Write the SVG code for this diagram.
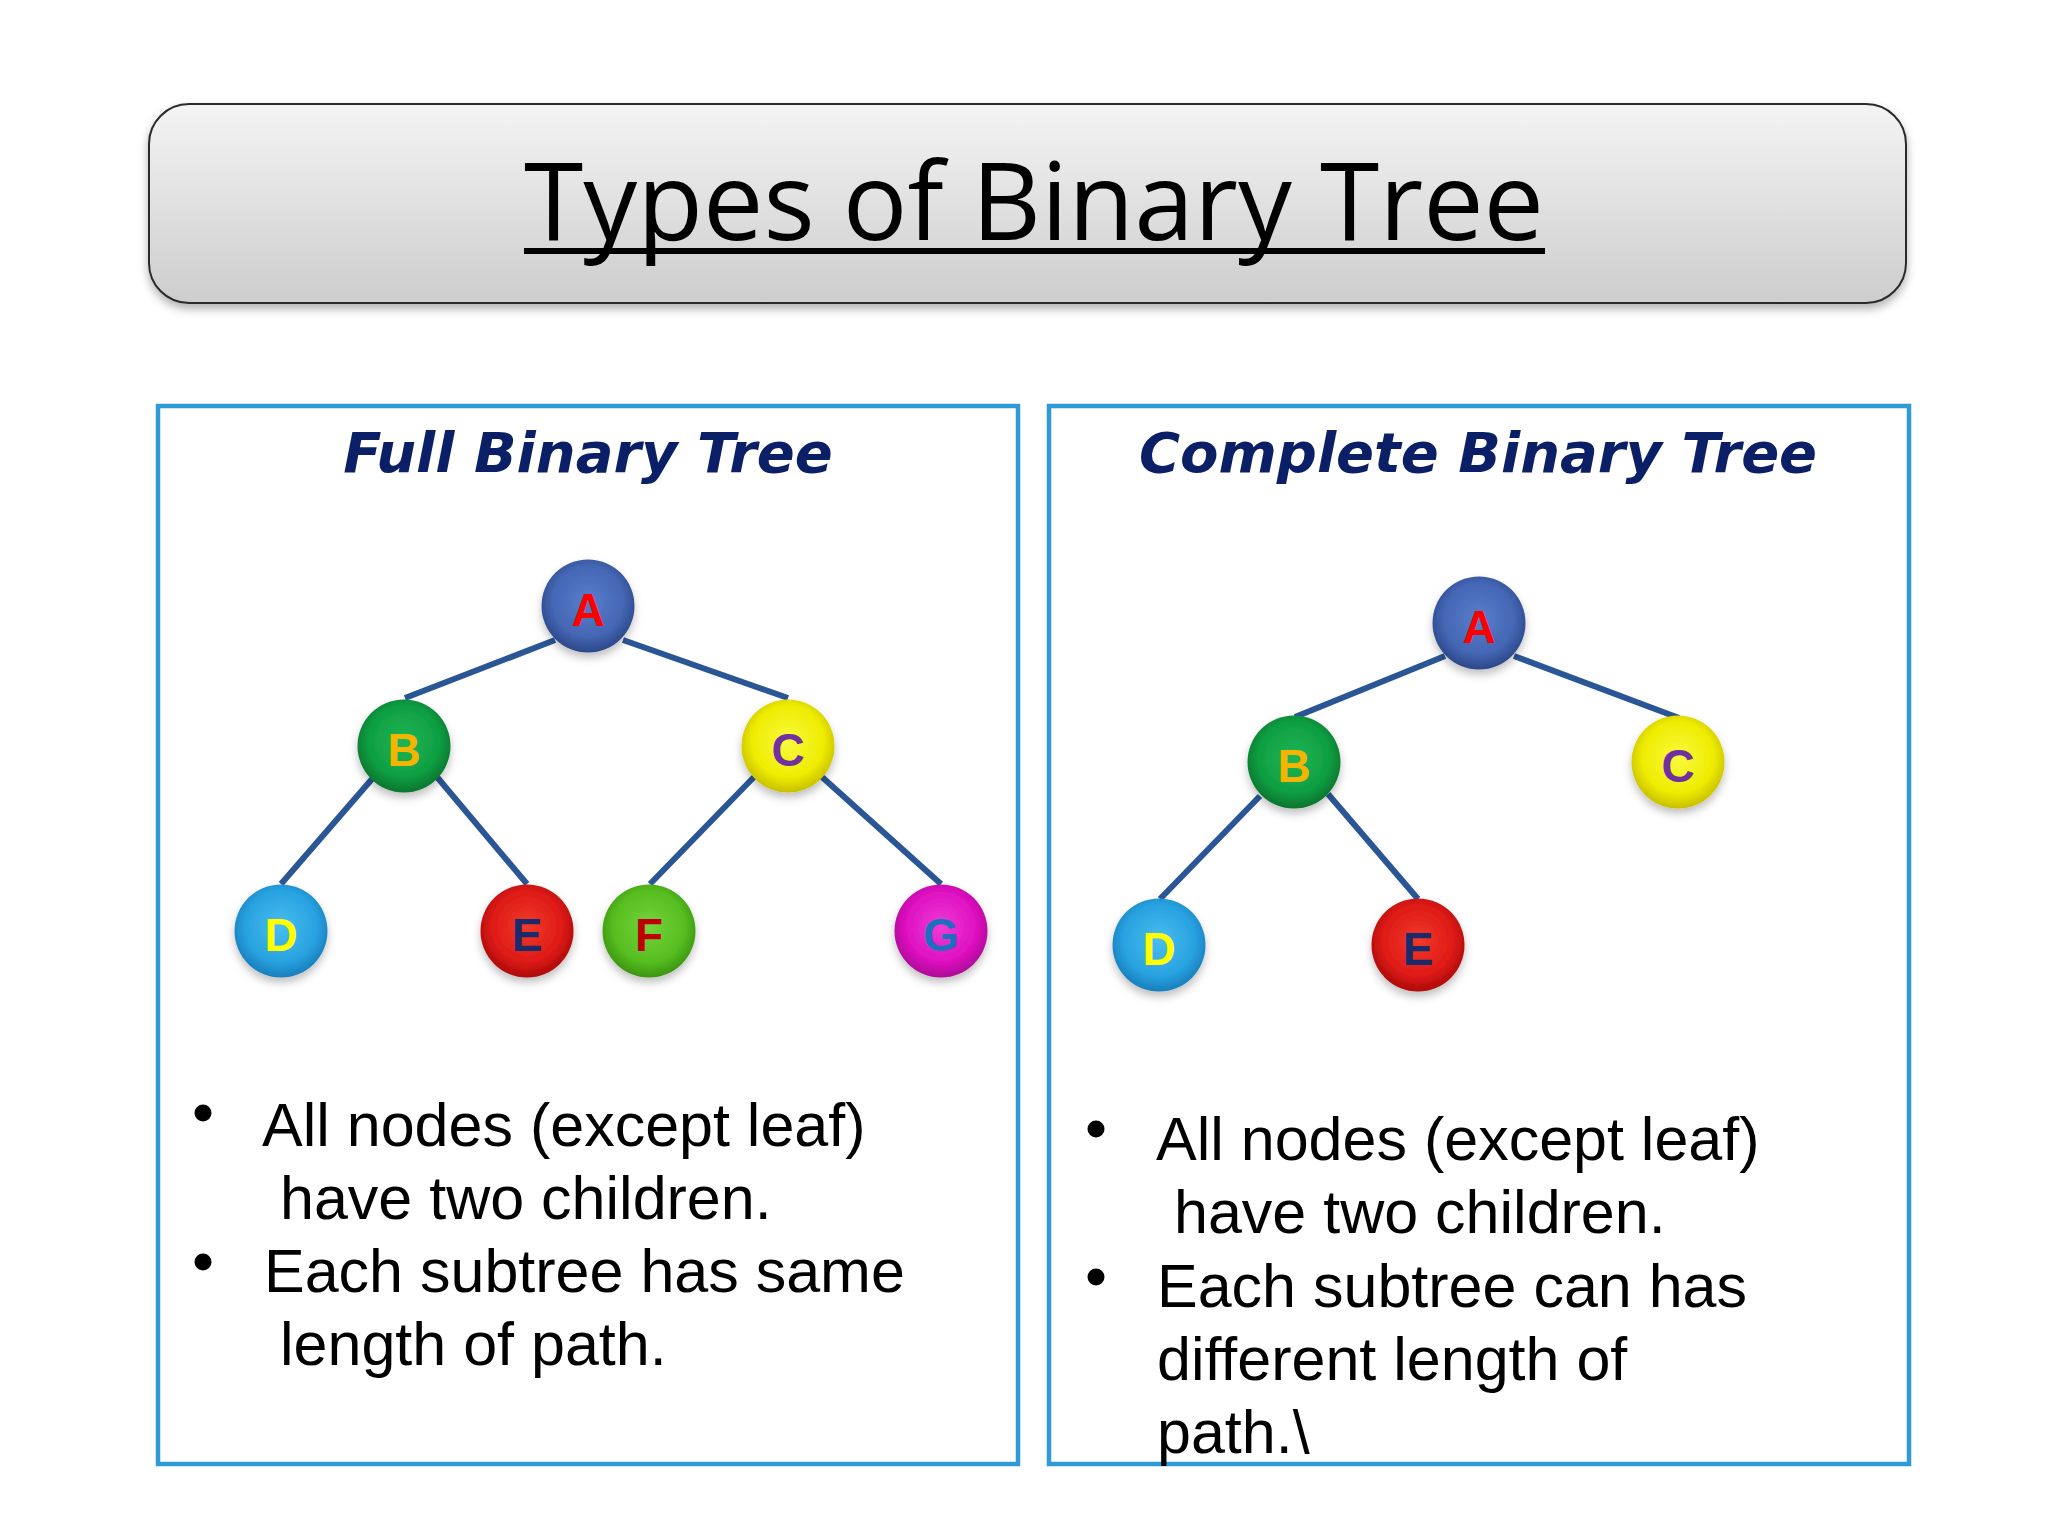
<svg xmlns="http://www.w3.org/2000/svg" width="2048" height="1536" viewBox="0 0 2048 1536">
<defs>
  <linearGradient id="titleGrad" x1="0" y1="0" x2="0" y2="1">
    <stop offset="0" stop-color="#F4F4F4"/>
    <stop offset="1" stop-color="#CDCDCD"/>
  </linearGradient>
  <filter id="boxShadow" x="-5%" y="-20%" width="110%" height="150%">
    <feDropShadow dx="0" dy="5" stdDeviation="5" flood-color="#000" flood-opacity="0.3"/>
  </filter>
  <filter id="nodeShadow" x="-30%" y="-30%" width="160%" height="170%">
    <feDropShadow dx="0" dy="5" stdDeviation="4" flood-color="#000" flood-opacity="0.25"/>
  </filter>
  <radialGradient id="gA" cx="0.5" cy="0.45" r="0.55"><stop offset="0" stop-color="#5A7ECC"/><stop offset="0.7" stop-color="#4466B4"/><stop offset="1" stop-color="#2C4788"/></radialGradient>
  <radialGradient id="gB" cx="0.5" cy="0.45" r="0.55"><stop offset="0" stop-color="#1DB656"/><stop offset="0.7" stop-color="#0F9E42"/><stop offset="1" stop-color="#08742E"/></radialGradient>
  <radialGradient id="gC" cx="0.5" cy="0.45" r="0.55"><stop offset="0" stop-color="#FAFA40"/><stop offset="0.7" stop-color="#EEEC00"/><stop offset="1" stop-color="#C8C000"/></radialGradient>
  <radialGradient id="gD" cx="0.5" cy="0.45" r="0.55"><stop offset="0" stop-color="#48BDF0"/><stop offset="0.7" stop-color="#28A2E0"/><stop offset="1" stop-color="#1A7EBC"/></radialGradient>
  <radialGradient id="gE" cx="0.5" cy="0.45" r="0.55"><stop offset="0" stop-color="#F03A2A"/><stop offset="0.7" stop-color="#DE1A16"/><stop offset="1" stop-color="#AC0A0A"/></radialGradient>
  <radialGradient id="gF" cx="0.5" cy="0.45" r="0.55"><stop offset="0" stop-color="#74D43C"/><stop offset="0.7" stop-color="#56BE20"/><stop offset="1" stop-color="#3C9410"/></radialGradient>
  <radialGradient id="gG" cx="0.5" cy="0.45" r="0.55"><stop offset="0" stop-color="#F03CD8"/><stop offset="0.7" stop-color="#DE10C0"/><stop offset="1" stop-color="#AC0896"/></radialGradient>
</defs>
<style>
  .panel { fill: #FFFFFF; stroke: #2E9AD6; stroke-width: 4.5; }
  .ptitle { font-family: "DejaVu Sans", Verdana, sans-serif; font-weight: bold; font-style: italic; font-size: 56px; fill: #0B1F66; text-anchor: middle; }
  .edge { stroke: #2A5696; stroke-width: 6; stroke-linecap: butt; fill: none; }
  .node circle { filter: url(#nodeShadow); }
  .lbl { font-family: "Liberation Sans", Arial, sans-serif; font-weight: bold; font-size: 46px; text-anchor: middle; }
  .body { font-family: "Liberation Sans", Arial, sans-serif; font-size: 61px; fill: #000000; }
  .bullet { fill: #000000; }
</style>
<rect width="2048" height="1536" fill="#FFFFFF"/>

<g id="title">
  <rect x="149" y="104" width="1757" height="199" rx="40" ry="40" fill="url(#titleGrad)" stroke="#2B2B2B" stroke-width="2" filter="url(#boxShadow)"/>
  <text x="1034" y="240" font-family="'Open Sans', 'Noto Sans', sans-serif" font-size="108" fill="#000000" text-anchor="middle" textLength="1020" lengthAdjust="spacingAndGlyphs">Types of Binary Tree</text>
  <rect x="524" y="248" width="1021" height="6" fill="#000000"/>
</g>

<g id="panel-full">
  <rect class="panel" x="158" y="406" width="860" height="1058"/>
  <text class="ptitle" x="588" y="472">Full Binary Tree</text>
</g>
<g id="panel-complete">
  <rect class="panel" x="1049" y="406" width="860" height="1058"/>
  <text class="ptitle" x="1478" y="472">Complete Binary Tree</text>
</g>

<g id="connectors">
  <line class="edge" x1="555" y1="640" x2="405" y2="698"/>
  <line class="edge" x1="623" y1="640" x2="788" y2="698"/>
  <line class="edge" x1="372" y1="779" x2="281" y2="884"/>
  <line class="edge" x1="437" y1="777" x2="527" y2="884"/>
  <line class="edge" x1="754" y1="777" x2="650" y2="884"/>
  <line class="edge" x1="822" y1="777" x2="941" y2="884"/>
  <line class="edge" x1="1445" y1="656" x2="1295" y2="717"/>
  <line class="edge" x1="1514" y1="656" x2="1679" y2="718"/>
  <line class="edge" x1="1260" y1="796" x2="1160" y2="899"/>
  <line class="edge" x1="1328" y1="794" x2="1418" y2="899"/>
</g>

<g id="full-A" class="node"><circle cx="588" cy="606" r="46.5" fill="url(#gA)"/><text class="lbl" x="588" y="626" fill="#FF0000">A</text></g>
<g id="full-B" class="node"><circle cx="404" cy="746" r="46.5" fill="url(#gB)"/><text class="lbl" x="404" y="766" fill="#F5B400">B</text></g>
<g id="full-C" class="node"><circle cx="788" cy="746" r="46.5" fill="url(#gC)"/><text class="lbl" x="788" y="766" fill="#7030A0">C</text></g>
<g id="full-D" class="node"><circle cx="281" cy="931" r="46.5" fill="url(#gD)"/><text class="lbl" x="281" y="951" fill="#FFFF00">D</text></g>
<g id="full-E" class="node"><circle cx="527" cy="931" r="46.5" fill="url(#gE)"/><text class="lbl" x="527" y="951" fill="#1A2A6A">E</text></g>
<g id="full-F" class="node"><circle cx="649" cy="931" r="46.5" fill="url(#gF)"/><text class="lbl" x="649" y="951" fill="#C00000">F</text></g>
<g id="full-G" class="node"><circle cx="941" cy="931" r="46.5" fill="url(#gG)"/><text class="lbl" x="941" y="951" fill="#1F6FC0">G</text></g>

<g id="comp-A" class="node"><circle cx="1479" cy="623" r="46.5" fill="url(#gA)"/><text class="lbl" x="1479" y="643" fill="#FF0000">A</text></g>
<g id="comp-B" class="node"><circle cx="1294" cy="762" r="46.5" fill="url(#gB)"/><text class="lbl" x="1294" y="782" fill="#F5B400">B</text></g>
<g id="comp-C" class="node"><circle cx="1678" cy="762" r="46.5" fill="url(#gC)"/><text class="lbl" x="1678" y="782" fill="#7030A0">C</text></g>
<g id="comp-D" class="node"><circle cx="1159" cy="945" r="46.5" fill="url(#gD)"/><text class="lbl" x="1159" y="965" fill="#FFFF00">D</text></g>
<g id="comp-E" class="node"><circle cx="1418" cy="945" r="46.5" fill="url(#gE)"/><text class="lbl" x="1418" y="965" fill="#1A2A6A">E</text></g>

<g id="text-full">
  <circle class="bullet" cx="203" cy="1113" r="8.5"/>
  <circle class="bullet" cx="203" cy="1262" r="8.5"/>
  <text class="body" x="262" y="1146">All nodes (except leaf)</text>
  <text class="body" x="280" y="1219">have two children.</text>
  <text class="body" x="264" y="1292">Each subtree has same</text>
  <text class="body" x="280" y="1365">length of path.</text>
</g>
<g id="text-complete">
  <circle class="bullet" cx="1096" cy="1129" r="8.5"/>
  <circle class="bullet" cx="1096" cy="1277" r="8.5"/>
  <text class="body" x="1156" y="1160">All nodes (except leaf)</text>
  <text class="body" x="1174" y="1233">have two children.</text>
  <text class="body" x="1157" y="1307">Each subtree can has</text>
  <text class="body" x="1157" y="1380">different length of</text>
  <text class="body" x="1157" y="1453">path.\</text>
</g>
</svg>
